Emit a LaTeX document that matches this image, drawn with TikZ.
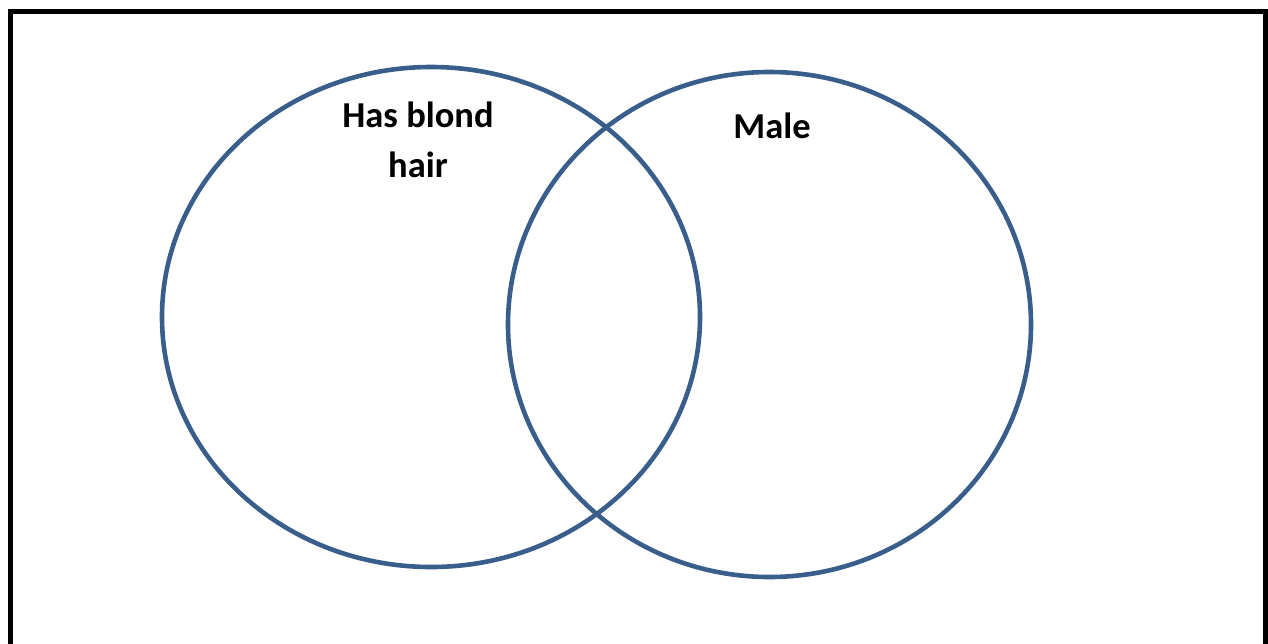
\documentclass[tikz,border=0pt]{standalone}
\usepackage{fontspec}
\setmainfont{Carlito}
\begin{document}
\begin{tikzpicture}[x=1pt,y=-1pt,
  vset/.style={draw={rgb,255:red,58;green,94;blue,140}, line width=4.6pt},
  lbl/.style={font=\fontsize{36.5}{50}\selectfont\bfseries, align=center, inner sep=0pt}]
\useasboundingbox (0,0) rectangle (1268,643);
\draw[line width=5pt] (10.5,660) -- (10.5,11.5) -- (1265.5,11.5) -- (1265.5,660);
\draw[vset] (431,317) ellipse [x radius=269, y radius=250];
\draw[vset] (769.5,324.5) ellipse [x radius=261.5, y radius=252.5];
\node[lbl, anchor=base] (blond) at (418,177) {Has blond\\hair};
\node[lbl, anchor=base] (male) at (772,138) {Male};
\end{tikzpicture}
\end{document}
